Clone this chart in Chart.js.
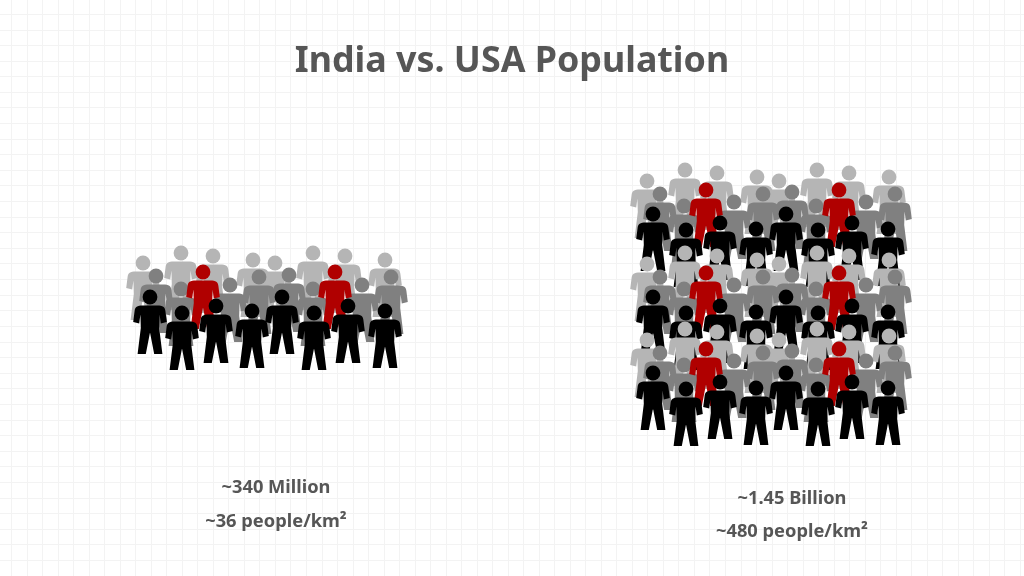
<!DOCTYPE html>
<html>
<head>
<meta charset="utf-8">
<title>India vs. USA Population</title>
<script src="https://cdn.jsdelivr.net/npm/chart.js@4"></script>
<style>
    html, body { margin: 0; padding: 0; background: #ffffff; }
    canvas { display: block; }
</style>
</head>
<body>
<canvas id="grafico" width="1024" height="576"></canvas>
<script>
const titleText = "India vs. USA Population"
const groupCaptions = [["~340 Million", "~36 people/km²"], ["~1.45 Billion", "~480 people/km²"]]
const captionX = [276, 792]
const captionY = [[488, 522], [499, 532]]

// Head position of every person
const usaLightX = [143, 181, 213, 253, 275, 313, 345, 385]
const usaLightY = [263, 253, 256, 260, 263, 253, 256, 260]
const usaMidX = [156, 181, 230, 259, 289, 313, 362, 391]
const usaMidY = [276, 289, 285, 277, 275, 289, 285, 277]
const usaRedX = [203, 335]
const usaRedY = [272, 272]
const usaBlackX = [150, 182, 216, 252, 282, 314, 348, 385]
const usaBlackY = [297, 313, 306, 311, 297, 313, 306, 311]

const indiaLightX = [647, 685, 717, 757, 779, 817, 849, 889]
const indiaMidX = [660, 684, 734, 763, 792, 816, 866, 895]
const indiaRedX = [706, 839]
const indiaBlackX = [653, 686, 720, 756, 786, 818, 852, 888]

// India has three rows of people, one list per row
const indiaLightY = [
    [181, 170, 173, 177, 181, 170, 173, 177],
    [264, 253, 256, 260, 264, 253, 256, 260],
    [340, 329, 332, 336, 340, 329, 332, 336]
]
const indiaMidY = [
    [194, 206, 202, 194, 192, 206, 202, 194],
    [277, 289, 285, 277, 275, 289, 285, 277],
    [353, 365, 361, 353, 351, 365, 361, 353]
]
const indiaRedY = [
    [190, 190],
    [273, 273],
    [349, 349]
]
const indiaBlackY = [
    [214, 230, 223, 229, 214, 230, 223, 229],
    [297, 313, 306, 312, 297, 313, 306, 312],
    [373, 389, 382, 388, 373, 389, 382, 388]
]

const lightColor = "#b5b5b5"
const midColor = "#808080"
const redColor = "#b00000"
const blackColor = "#000000"

// Person icon. The head sits in the middle of the canvas, so the point value is the head
function criaPessoa(cor) {
    let icone = document.createElement("canvas")
    icone.width = 40
    icone.height = 120
    let ctx = icone.getContext("2d")
    ctx.translate(20, 60)
    ctx.fillStyle = cor
    ctx.beginPath()
    ctx.arc(0, 0, 7.4, 0, Math.PI * 2)
    ctx.fill()
    ctx.beginPath()
    ctx.moveTo(0, 8.4)
    ctx.lineTo(-7, 8.4)
    ctx.bezierCurveTo(-13, 8.4, -15, 10, -15.4, 14)
    ctx.lineTo(-16.8, 25)
    ctx.lineTo(-10.8, 26.4)
    ctx.lineTo(-9.6, 17.5)
    ctx.lineTo(-9.2, 31)
    ctx.lineTo(-12.4, 57)
    ctx.lineTo(-4.2, 57)
    ctx.lineTo(0, 35.5)
    ctx.lineTo(4.2, 57)
    ctx.lineTo(12.4, 57)
    ctx.lineTo(9.2, 31)
    ctx.lineTo(9.6, 17.5)
    ctx.lineTo(10.8, 26.4)
    ctx.lineTo(16.8, 25)
    ctx.lineTo(15.4, 14)
    ctx.bezierCurveTo(15, 10, 13, 8.4, 7, 8.4)
    ctx.closePath()
    ctx.fill()
    return icone
}

const icones = {
    light: criaPessoa(lightColor),
    mid: criaPessoa(midColor),
    red: criaPessoa(redColor),
    black: criaPessoa(blackColor)
}

function juntaPontos(xs, ys) {
    return xs.map((x, i) => ({x: x, y: ys[i]}))
}

// Drawing order goes back to front: light, mid, red, black, then the next row
let camadas = [
    ["USA light", usaLightX, usaLightY, icones.light],
    ["USA mid", usaMidX, usaMidY, icones.mid],
    ["USA red", usaRedX, usaRedY, icones.red],
    ["USA black", usaBlackX, usaBlackY, icones.black]
]
for (let linha = 0; linha < indiaLightY.length; linha++) {
    camadas.push(["India light " + linha, indiaLightX, indiaLightY[linha], icones.light])
    camadas.push(["India mid " + linha, indiaMidX, indiaMidY[linha], icones.mid])
    camadas.push(["India red " + linha, indiaRedX, indiaRedY[linha], icones.red])
    camadas.push(["India black " + linha, indiaBlackX, indiaBlackY[linha], icones.black])
}

const datasets = camadas.map((camada, i) => ({
    label: camada[0],
    data: juntaPontos(camada[1], camada[2]),
    pointStyle: camada[3],
    order: camadas.length - i,
    clip: false
}))

// Title and captions go on top of the full size plot area
const textos = {
    id: "textos",
    afterDraw(chart) {
        const ctx = chart.ctx
        const sx = chart.scales.x
        const sy = chart.scales.y
        ctx.save()
        ctx.textAlign = "center"
        ctx.textBaseline = "middle"
        ctx.fillStyle = "#565656"
        ctx.font = "bold 35.8px 'Noto Sans'"
        ctx.fillText(titleText, sx.getPixelForValue(512), sy.getPixelForValue(62))
        ctx.font = "bold 18.3px 'Noto Sans'"
        groupCaptions.forEach((linhas, g) => {
            linhas.forEach((texto, l) => {
                ctx.fillText(texto, sx.getPixelForValue(captionX[g]), sy.getPixelForValue(captionY[g][l]))
            })
        })
        ctx.restore()
    }
}

// Faint squared paper behind the people
function gradeX(scale) {
    scale.ticks = []
    for (let v = 11.6; v < 1024; v += 15.52) scale.ticks.push({value: v})
}
function gradeY(scale) {
    scale.ticks = []
    for (let v = 14.4; v < 576; v += 15.6) scale.ticks.push({value: v})
}

const eixoBase = {
    type: "linear",
    border: {display: false},
    grid: {color: "#f3f3f3", lineWidth: 1, drawTicks: false},
    ticks: {display: false}
}

new Chart(document.getElementById("grafico"), {
    type: "scatter",
    data: {datasets: datasets},
    options: {
        responsive: false,
        animation: false,
        layout: {padding: 0, autoPadding: false},
        plugins: {
            legend: {display: false},
            tooltip: {enabled: false}
        },
        scales: {
            x: {...eixoBase, min: 0, max: 1024, afterBuildTicks: gradeX},
            y: {...eixoBase, min: 0, max: 576, reverse: true, afterBuildTicks: gradeY}
        }
    },
    plugins: [textos]
})
</script>
</body>
</html>
